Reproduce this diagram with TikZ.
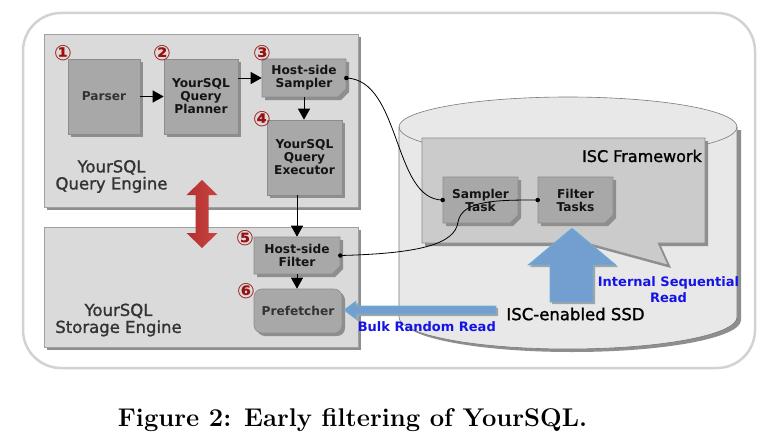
\documentclass[tikz,border=0pt]{standalone}
\usepackage{fontspec}
\newfontfamily\dv{DejaVu Sans}
\newfontfamily\dvm[FakeBold=1.3]{DejaVu Sans}
\usetikzlibrary{shapes.misc,arrows.meta,shadows}
\definecolor{outerc}{HTML}{D2D2D2}
\definecolor{contfill}{HTML}{DADADA}
\definecolor{contline}{HTML}{A0A0A0}
\definecolor{boxfill}{HTML}{A8A8A8}
\definecolor{boxline}{HTML}{8C8C8C}
\definecolor{shadowc}{HTML}{8E8E8E}
\definecolor{cylfill}{HTML}{E8E8E8}
\definecolor{cylline}{HTML}{7A7A7A}
\definecolor{iscfill}{HTML}{CBCBCB}
\definecolor{txtc}{HTML}{141414}
\definecolor{grtxt}{HTML}{333333}
\definecolor{numc}{HTML}{9A1010}
\definecolor{bluefill}{HTML}{729FCF}
\definecolor{blueline}{HTML}{6FB2D6}
\definecolor{bluetxt}{HTML}{1414E6}
\definecolor{redA}{HTML}{B03030}
\definecolor{redB}{HTML}{CC4440}
\tikzset{
  shad/.style={drop shadow={shadow xshift=3pt,shadow yshift=-3pt,fill=shadowc,opacity=1}},
  cont/.style={draw=contline,fill=contfill,line width=0.7pt,shad,anchor=north west,inner sep=0pt},
  box/.style={draw=boxline,fill=boxfill,line width=0.6pt,shad,align=center,inner sep=0pt,
    text=txtc,font=\dv\bfseries\fontsize{12.2}{13}\selectfont},
  foldbox/.style={box,chamfered rectangle,chamfered rectangle corners=south east,
    chamfered rectangle xsep=5pt},
  arr/.style={line width=0.8pt,-{Triangle[length=11pt,width=12pt]}},
  wire/.style={line width=0.8pt},
  dot/.style={circle,fill=black,inner sep=0pt,minimum size=4.5pt},
  num/.style={text=numc,font=\dv\bfseries\fontsize{21}{21}\selectfont,inner sep=0pt},
  eng/.style={text=grtxt,align=center,font=\dvm\fontsize{16.5}{17}\selectfont,inner sep=0pt},
  bluetext/.style={text=bluetxt,align=center,font=\dv\bfseries\fontsize{13}{15.5}\selectfont,inner sep=0pt},
}
\begin{document}
\begin{tikzpicture}[x=1pt,y=1pt]
\useasboundingbox (0,0) rectangle (773,-444);
\fill[white] (0,0) rectangle (773,-444);
% outer frame
\draw[outerc,line width=2.5pt,rounded corners=38pt] (23,-13) rectangle (755,-368);
% containers
\node[cont,minimum width=314pt,minimum height=173pt] (qe) at (44,-34) {};
\node[cont,minimum width=314pt,minimum height=120pt] (se) at (44,-227) {};
\node[eng] (qelab) at (111.5,-176.5) {YourSQL\\Query Engine};
\node[eng] (selab) at (118.5,-320) {YourSQL\\Storage Engine};
% cylinder
\fill[shadowc] (403,-130) -- (403,-320) arc[start angle=180,end angle=360,x radius=169,y radius=32] -- (741,-130) -- cycle;
\filldraw[fill=cylfill,draw=cylline,line width=0.6pt] (399,-127) -- (399,-317) arc[start angle=180,end angle=360,x radius=169,y radius=32] -- (737,-127) arc[start angle=0,end angle=180,x radius=169,y radius=30] -- cycle;
\draw[cylline,line width=0.6pt] (399,-127) arc[start angle=180,end angle=360,x radius=169,y radius=30];
% ISC framework bubble
\fill[shadowc] (425,-141) -- (708,-141) -- (708,-246) -- (661,-246) -- (671,-268) -- (590,-246) -- (425,-246) -- cycle;
\filldraw[fill=iscfill,draw=boxline,line width=0.6pt] (422,-138) -- (705,-138) -- (705,-243) -- (658,-243) -- (668,-265) -- (587,-243) -- (422,-243) -- cycle;
\node[anchor=east,text=black,font=\dvm\fontsize{16}{16}\selectfont,inner sep=0pt] (isclab) at (702,-156) {ISC Framework};
% boxes
\node[box,text=grtxt,minimum width=72pt,minimum height=75pt] (parser) at (104,-96.5) {Parser};
\node[box,minimum width=74pt,minimum height=75pt] (planner) at (201,-96.5) {YourSQL\\Query\\Planner};
\node[foldbox,minimum width=84pt,minimum height=38pt] (sampler) at (304,-78) {Host-side\\Sampler};
\node[box,minimum width=75pt,minimum height=75pt] (executor) at (304.5,-157.5) {YourSQL\\Query\\Executor};
\node[foldbox,minimum width=86pt,minimum height=37pt] (filter) at (297,-255.5) {Host-side\\Filter};
\node[box,text=grtxt,rounded corners=8pt,minimum width=88pt,minimum height=44pt] (prefetch) at (298,-311) {Prefetcher};
\node[foldbox,minimum width=75pt,minimum height=46pt] (stask) at (480.5,-200) {Sampler\\Task};
\node[foldbox,minimum width=75pt,minimum height=46pt] (ftask) at (575.5,-200) {Filter\\Tasks};
% numbers
\node[num] (n1) at (63,-53) {①};
\node[num] (n2) at (162,-53) {②};
\node[num] (n3) at (262,-53) {③};
\node[num] (n4) at (262,-119) {④};
\node[num] (n5) at (245,-238) {⑤};
\node[num] (n6) at (246,-291) {⑥};
% arrows between boxes
\draw[arr] (parser.east) -- (planner.west);
\draw[arr] (planner.east |- sampler.west) -- (sampler.west);
\draw[arr] (sampler.south) -- (executor.north -| sampler.south);
\draw[arr] (executor.south -| filter.north) -- (filter.north);
\draw[arr] (filter.south) -- (filter.south |- prefetch.north);
% curved wires
\node[dot] (d1) at (sampler.east) {};
\node[dot] (d2) at (stask.west) {};
\node[dot] (d3) at (filter.east) {};
\node[dot] (d4) at (ftask.west) {};
\draw[wire] (d1.center) .. controls +(55,-2) and +(-50,0) .. (d2.center);
\coordinate (bend) at (458,-222);
\draw[wire] (d3.center) .. controls +(80,2) and +(-3,-22) .. (bend) .. controls +(4,22) and +(-40,0) .. (d4.center);
% red double arrow
\shade[left color=redA,right color=redB] (202,-180) -- (217.5,-195) -- (208.5,-195) -- (208.5,-233) -- (217.5,-233) -- (202,-248) -- (186.5,-233) -- (195.5,-233) -- (195.5,-195) -- (186.5,-195) -- cycle;
% blue up arrow
\fill[shadowc!80] (574,-230) -- (618,-267) -- (595,-267) -- (595,-304) -- (552,-304) -- (552,-267) -- (530,-267) -- cycle;
\filldraw[fill=bluefill,draw=blueline,line width=0.6pt] (572,-228) -- (616,-265) -- (593,-265) -- (593,-302) -- (550,-302) -- (550,-265) -- (528,-265) -- cycle;
% blue left arrow
\fill[shadowc!80] (498,-308) -- (358,-308) -- (358,-303) -- (346,-312) -- (358,-321) -- (358,-316) -- (498,-316) -- cycle;
\filldraw[fill=bluefill,draw=blueline,line width=0.6pt] (496,-306) -- (356,-306) -- (356,-301) -- (344,-310) -- (356,-319) -- (356,-314) -- (496,-314) -- cycle;
% texts
\node[bluetext] (isr) at (668.5,-289.5) {Internal Sequential\\Read};
\node[bluetext,anchor=east] (brr) at (496,-327) {Bulk Random Read};
\node[text=black,font=\dvm\fontsize{16.5}{16.5}\selectfont,inner sep=0pt] (ssd) at (575.5,-314) {ISC-enabled SSD};
% caption
\node[font=\bfseries\fontsize{25.6}{26}\selectfont,inner sep=0pt] (cap) at (352.5,-420) {Figure 2: Early filtering of YourSQL.};
\end{tikzpicture}
\end{document}
